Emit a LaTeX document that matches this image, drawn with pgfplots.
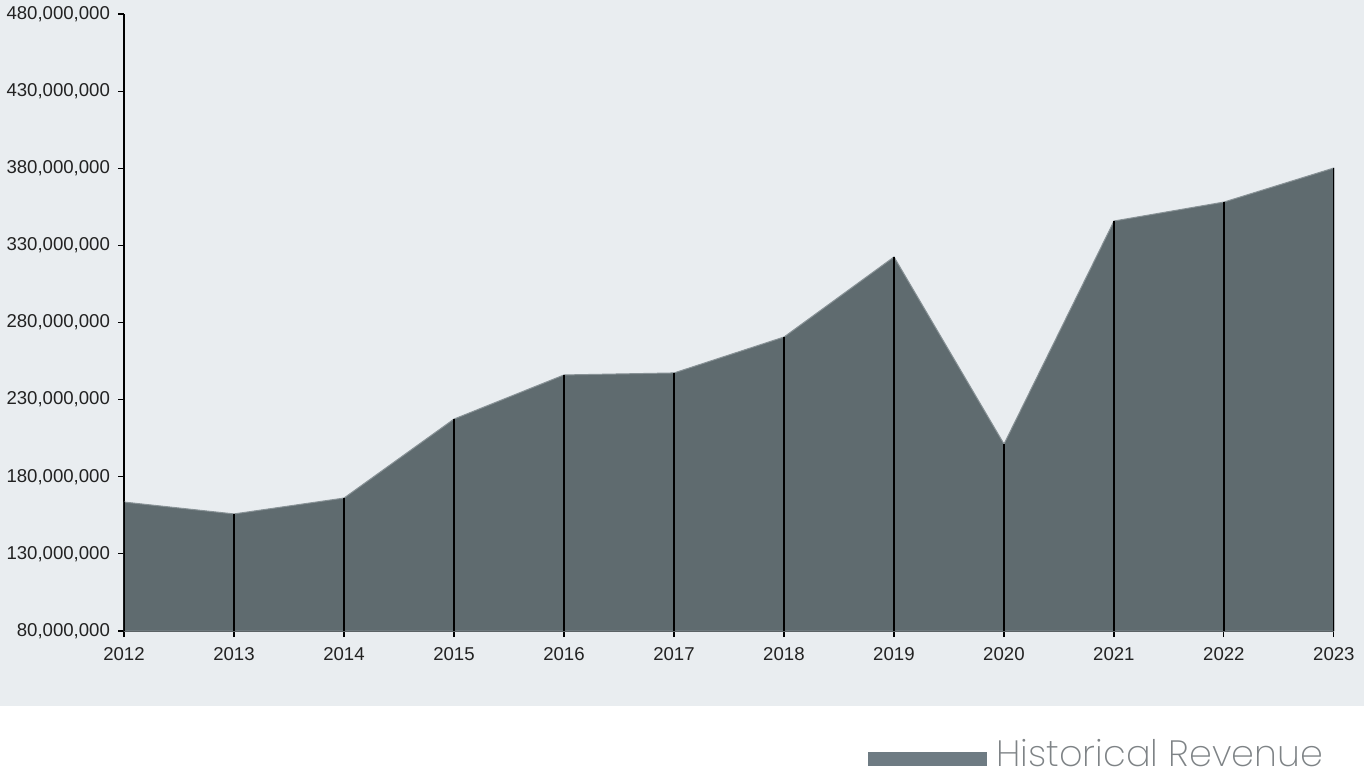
\documentclass[border=0pt]{standalone}
\usepackage{pgfplots}
\pgfplotsset{compat=1.18}
\usepackage{fontspec}
\setmainfont{Liberation Sans}
\newfontfamily\legendfont{Poppins ExtraLight}
\definecolor{bgc}{HTML}{E9EDF0}
\definecolor{areac}{HTML}{5F6B6F}
\definecolor{legc}{HTML}{6E7B83}
\definecolor{txtc}{HTML}{222222}
\definecolor{legtxt}{HTML}{7E8386}
\begin{document}
\begin{tikzpicture}
\useasboundingbox (0,0) rectangle (682pt,388pt);
\fill[bgc] (0,35pt) rectangle (682pt,388pt);
\begin{axis}[
  at={(62pt,72.5pt)}, anchor=south west,
  scale only axis, width=605pt, height=308.5pt,
  xmin=2012, xmax=2023, ymin=80000000, ymax=480000000,
  axis x line*=bottom, axis y line*=left,
  axis line style={-, black, line width=0.6pt},
  xtick={2012,...,2023},
  ytick={80000000,130000000,180000000,230000000,280000000,330000000,380000000,430000000,480000000},
  tick align=outside, major tick length=3pt,
  tick style={black, line width=0.6pt},
  scaled y ticks=false,
  /pgf/number format/assume math mode=true,
  yticklabel style={/pgf/number format/fixed, /pgf/number format/1000 sep={,}, font=\fontsize{9.3}{10}\selectfont, text=txtc, xshift=-0.5pt},
  xticklabel style={/pgf/number format/1000 sep={}, font=\fontsize{9.3}{10}\selectfont, text=txtc, yshift=-1.5pt},
  clip=true,
]
\addplot[fill=areac, draw=areac!70!bgc, line width=0.5pt] coordinates {
(2012,163600000) (2013,155900000) (2014,166200000) (2015,217400000)
(2016,246000000) (2017,247300000) (2018,270600000) (2019,322500000)
(2020,201200000) (2021,345800000) (2022,358100000) (2023,380200000)
} \closedcycle;
\addplot[ycomb, black, line width=0.7pt] coordinates {
(2012,163600000) (2013,155900000) (2014,166200000) (2015,217400000)
(2016,246000000) (2017,247300000) (2018,270600000) (2019,322500000)
(2020,201200000) (2021,345800000) (2022,358100000) (2023,380200000)
};
\end{axis}
\fill[legc] (434pt,5pt) rectangle (493.5pt,12pt);
\node[anchor=base west, inner sep=0pt, text=legtxt, font=\legendfont\fontsize{18.3}{20}\selectfont] at (498pt,5pt) {Historical Revenue};
\end{tikzpicture}
\end{document}
